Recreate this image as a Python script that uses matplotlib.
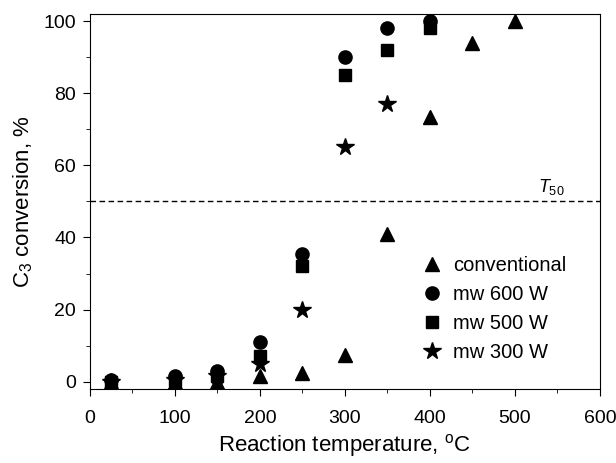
import matplotlib
matplotlib.use("Agg")
import matplotlib.pyplot as plt
from matplotlib.ticker import MultipleLocator

plt.rcParams['font.family'] = ['Liberation Sans', 'DejaVu Sans']
plt.rcParams['mathtext.fontset'] = 'custom'
plt.rcParams['mathtext.rm'] = 'Liberation Sans'
plt.rcParams['mathtext.it'] = 'Liberation Sans:italic'

conv_x = [25, 100, 150, 200, 250, 300, 350, 400, 450, 500]
conv_y = [0, 0, 0, 1.5, 2.5, 7.5, 41, 73.5, 94, 100]
mw600_x = [25, 100, 150, 200, 250, 300, 350, 400]
mw600_y = [0.5, 1.5, 3, 11, 35.5, 90, 98, 100]
mw500_x = [25, 100, 150, 200, 250, 300, 350, 400]
mw500_y = [0, 0.5, 1.5, 7, 32, 85, 92, 98]
mw300_x = [25, 100, 150, 200, 250, 300, 350]
mw300_y = [0, 0.5, 1.5, 5, 20, 65, 77]
t50 = 50

fig = plt.figure(figsize=(6.16, 4.63), dpi=100)
ax = fig.add_axes([0.146, 0.160, 0.828, 0.810])

ax.plot(conv_x, conv_y, '^', color='black', ms=10.5, ls='none', label='conventional')
ax.plot(mw600_x, mw600_y, 'o', color='black', ms=9.5, ls='none', label='mw 600 W')
ax.plot(mw500_x, mw500_y, 's', color='black', ms=8, ls='none', label='mw 500 W')
ax.plot(mw300_x, mw300_y, '*', color='black', ms=13, ls='none', label='mw 300 W')

ax.axhline(t50, color='black', ls=(0, (4, 2.5)), lw=1.0)
ax.text(527, 52.5, r'$T_{50}$', fontsize=13, style='italic')

ax.set_xlim(0, 600)
ax.set_ylim(-2, 102)
ax.xaxis.set_major_locator(MultipleLocator(100))
ax.xaxis.set_minor_locator(MultipleLocator(50))
ax.yaxis.set_major_locator(MultipleLocator(20))
ax.yaxis.set_minor_locator(MultipleLocator(10))
ax.tick_params(which='both', direction='out', labelsize=14)
ax.tick_params(axis='x', which='both', pad=10)
ax.tick_params(axis='y', which='both', pad=5)
ax.tick_params(which='major', length=5)
ax.tick_params(which='minor', length=3)

ax.set_xlabel(r'Reaction temperature, $^{\mathrm{o}}$C', fontsize=16, labelpad=4)
ax.set_ylabel(r'C$_{3}$ conversion, %', fontsize=16, labelpad=6)

ax.legend(loc='upper left', bbox_to_anchor=(0.647, 0.355), frameon=False, fontsize=14.5,
          handletextpad=0.45, labelspacing=0.5, handlelength=1.2,
          borderaxespad=0, borderpad=0)

fig.savefig('out.png', dpi=100)
